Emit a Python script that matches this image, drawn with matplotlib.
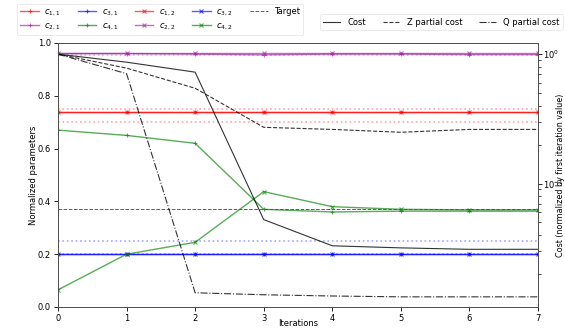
import matplotlib
matplotlib.use("Agg")
import matplotlib.pyplot as plt
import numpy as np

iterations = [0, 1, 2, 3, 4, 5, 6, 7]

c11 = [0.739, 0.739, 0.739, 0.739, 0.739, 0.739, 0.739, 0.739]
c12 = [0.740, 0.740, 0.740, 0.740, 0.740, 0.740, 0.740, 0.740]
c21 = [0.960, 0.960, 0.958, 0.955, 0.958, 0.958, 0.956, 0.956]
c22 = [0.962, 0.962, 0.962, 0.962, 0.962, 0.962, 0.962, 0.962]
c31 = [0.200, 0.200, 0.200, 0.200, 0.200, 0.200, 0.200, 0.200]
c32 = [0.201, 0.201, 0.201, 0.201, 0.201, 0.201, 0.201, 0.201]
c41 = [0.670, 0.650, 0.620, 0.370, 0.360, 0.363, 0.363, 0.363]
c42 = [0.065, 0.200, 0.245, 0.437, 0.380, 0.370, 0.368, 0.368]

targets = {"c11": 0.75, "c12": 0.70, "c21": 1.0, "c22": 0.955,
           "c31": 0.25, "c32": 0.20, "c41": 0.37, "c42": 0.37}

cost = [1.0, 0.867, 0.726, 0.0526, 0.033, 0.0318, 0.031, 0.031]
z_cost = [1.0, 0.78, 0.545, 0.272, 0.262, 0.249, 0.262, 0.262]
q_cost = [1.0, 0.707, 0.0143, 0.0138, 0.0135, 0.0133, 0.0133, 0.0133]

W, H = 565, 329
fig = plt.figure(figsize=(W / 100, H / 100), dpi=100)
ax = fig.add_axes([58 / W, (H - 307) / H, 480 / W, 264 / H])
ax2 = ax.twinx()

fs = 6
params = [
    ("c11", c11, "red", "+", r"$c_{1,1}$"),
    ("c21", c21, "#a020a0", "+", r"$c_{2,1}$"),
    ("c31", c31, "blue", "+", r"$c_{3,1}$"),
    ("c41", c41, "green", "+", r"$c_{4,1}$"),
    ("c12", c12, "red", "x", r"$c_{1,2}$"),
    ("c22", c22, "#a020a0", "x", r"$c_{2,2}$"),
    ("c32", c32, "blue", "x", r"$c_{3,2}$"),
    ("c42", c42, "green", "x", r"$c_{4,2}$"),
]
handles = []
for key, vals, col, mk, lab in params:
    h, = ax.plot(iterations, vals, color=col, marker=mk, markersize=2.5,
                 markeredgewidth=0.8, lw=1.0, alpha=0.65, label=lab)
    handles.append(h)
    if key == "c41" or key == "c42":
        continue
    ax.axhline(targets[key], color=col, ls=":", lw=1.2, alpha=0.35)
th = ax.axhline(targets["c42"], color="green", ls="--", lw=0.7, alpha=0.9,
                label="Target")
handles.append(th)

h1, = ax2.plot(iterations, cost, color="black", ls="-", lw=0.8, alpha=0.8,
               label="Cost")
h2, = ax2.plot(iterations, z_cost, color="black", ls="--", lw=0.8, alpha=0.8,
               label="Z partial cost")
h3, = ax2.plot(iterations, q_cost, color="black", ls="-.", lw=0.8, alpha=0.8,
               label="Q partial cost")
ax2.set_yscale("log")
ax2.set_ylim(0.0111, 1.22)

ax.set_xlim(0, 7)
ax.set_ylim(0, 1.0)
ax.set_xticks(iterations)
ax.set_yticks([0.0, 0.2, 0.4, 0.6, 0.8, 1.0])
ax.tick_params(labelsize=fs, length=3, width=0.6, pad=2)
ax2.tick_params(labelsize=fs, length=2.7, width=0.6, pad=1.2)
ax2.tick_params(which="minor", length=1.8, width=0.5)
ax2.yaxis.set_minor_formatter(matplotlib.ticker.NullFormatter())
for a in (ax, ax2):
    for s in a.spines.values():
        s.set_linewidth(0.6)
        s.set_color("0.3")
ax.set_xlabel("Iterations", fontsize=fs, va="center")
ax.xaxis.set_label_coords(0.5, (307 - 323) / 264)
ax.set_ylabel("Normalized parameters", fontsize=fs, va="center")
ax.yaxis.set_label_coords((33 - 58) / 480, 0.5)
ax2.set_ylabel("Cost (normalized by first iteration value)", fontsize=5.8,
               va="center")
ax2.yaxis.set_label_coords((560.5 - 58) / 480, 0.5)

leg1 = fig.legend(handles=handles, loc="lower left", ncol=5, fontsize=fs,
                  bbox_to_anchor=(17 / W, (H - 35) / H), handlelength=2.2,
                  columnspacing=2.0, borderaxespad=0, framealpha=0.8,
                  edgecolor="0.88", handletextpad=0.7, labelspacing=0.4,
                  borderpad=0.4)
leg1.get_frame().set_linewidth(0.6)
leg2 = fig.legend(handles=[h1, h2, h3], loc="lower left", ncol=3, fontsize=fs,
                  bbox_to_anchor=(320 / W, (H - 30) / H), handlelength=2.0,
                  columnspacing=2.0, borderaxespad=0, framealpha=0.8,
                  edgecolor="0.88", handletextpad=0.9)
leg2.get_frame().set_linewidth(0.6)

fig.savefig("out.png", dpi=100)
